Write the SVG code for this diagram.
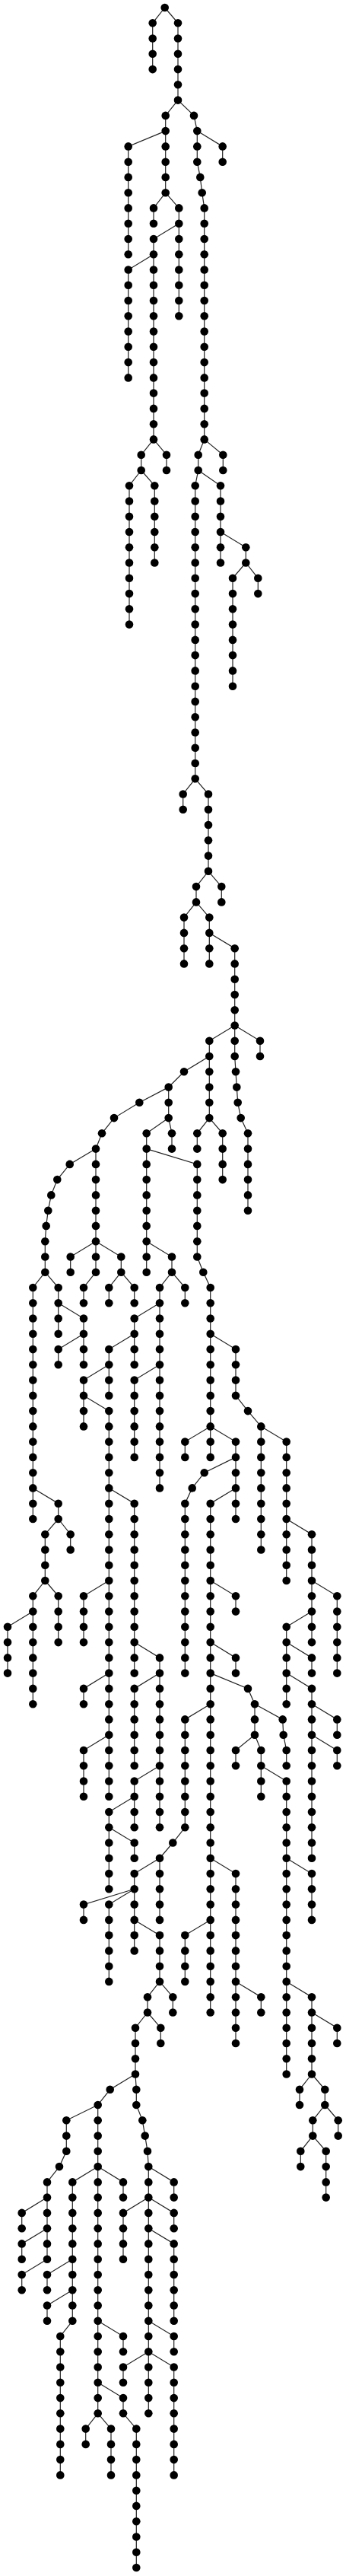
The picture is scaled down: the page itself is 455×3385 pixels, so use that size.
<svg xmlns="http://www.w3.org/2000/svg" width="455" height="3385" viewBox="0 0 455 3385">
<style>
circle{r:5.3px;fill:#000}
#edges path{fill:none;stroke:#222;stroke-width:1.2}
</style>
<rect width="455" height="3385" fill="#fff"/>
<g id="edges">
<path d="M216.7,10L200.7,30.3V91.1"/>
<path d="M216.7,10L234,30.3V131.6"/>
<path d="M234,131.6L217.7,151.9V253.2"/>
<path d="M217.7,172.1L168.7,192.4V334.2"/>
<path d="M217.7,253.2L202,273.4V293.7"/>
<path d="M217.7,253.2L235.3,273.4V415.3"/>
<path d="M235.3,293.7L202,314V577.4"/>
<path d="M202,334.2L168.7,354.5V496.4"/>
<path d="M202,577.4L219,597.7V618"/>
<path d="M202,577.4L185.7,597.7V618"/>
<path d="M185.7,618L170,638.2V820.6"/>
<path d="M185.7,618L203.3,638.2V739.5"/>
<path d="M234,131.6L255,151.9L259.3,172.1V212.7L263.3,232.9L265.7,253.2L268.7,273.4V577.4"/>
<path d="M259.3,172.1L292.7,192.4V212.7"/>
<path d="M268.7,577.4L293.3,597.7V618"/>
<path d="M268.7,577.4L260.7,597.7V618L256.7,638.2V1023.3"/>
<path d="M260.7,618L290,638.2V739.5"/>
<path d="M290,699L323.3,719.3V739.5"/>
<path d="M323.3,739.5L339.3,759.8V780.1"/>
<path d="M323.3,739.5L306,759.8V901.7"/>
<path d="M256.7,1023.3L240.7,1043.5V1063.8"/>
<path d="M256.7,1023.3L274,1043.5V1144.8"/>
<path d="M274,1144.8L291.3,1165.1V1185.4"/>
<path d="M274,1144.8L258,1165.1V1185.4"/>
<path d="M258,1185.4L242,1205.6V1266.4"/>
<path d="M258,1185.4L275.3,1205.6V1266.4"/>
<path d="M275.3,1225.9L308.7,1246.2V1347.5"/>
<path d="M308.7,1347.5L342,1367.8V1388"/>
<path d="M308.7,1347.5L275.3,1367.8V1469.1"/>
<path d="M308.7,1347.5V1388L310,1408.3L311.3,1428.6L312.7,1448.8L316.7,1469.1L326,1489.3V1590.7"/>
<path d="M275.3,1469.1L259.3,1489.3V1509.6"/>
<path d="M275.3,1469.1L292.7,1489.3V1550.1"/>
<path d="M275.3,1388L242,1408.3L221.7,1428.6V1469.1"/>
<path d="M221.7,1469.1L226,1489.3V1509.6"/>
<path d="M221.7,1469.1L192.7,1489.3V1671.7"/>
<path d="M192.7,1509.6L259.3,1529.9V1651.5L267.3,1671.7L276.7,1692V1914.9"/>
<path d="M192.7,1631.2L226,1651.5V1671.7"/>
<path d="M226,1671.7L210,1692V1955.4"/>
<path d="M226,1671.7L243.3,1692V1712.3"/>
<path d="M221.7,1428.6L183.3,1448.8L150,1469.1L134,1489.3L126,1509.6V1671.7"/>
<path d="M126,1509.6L91.7,1529.9L75.3,1550.1L67.3,1570.4L63.3,1590.7L60.7,1610.9L59.3,1631.2V1671.7"/>
<path d="M59.3,1671.7L43.3,1692V1996"/>
<path d="M59.3,1671.7L76.7,1692V1752.8"/>
<path d="M76.7,1712.3L110,1732.5V1752.8"/>
<path d="M110,1752.8L76.7,1773.1V1793.3"/>
<path d="M110,1752.8V1793.3"/>
<path d="M126,1631.2L92.7,1651.5V1671.7"/>
<path d="M126,1631.2L159.3,1651.5V1671.7"/>
<path d="M126,1671.7L110,1692V1712.3"/>
<path d="M159.3,1671.7L143.3,1692V1712.3"/>
<path d="M159.3,1671.7L176.7,1692V1712.3"/>
<path d="M210,1712.3L176.7,1732.5V1793.3"/>
<path d="M176.7,1752.8L143.3,1773.1V1833.9"/>
<path d="M143.3,1793.3L110,1813.6V1874.4"/>
<path d="M110,1833.9L143.3,1854.1V2360.7"/>
<path d="M143.3,1955.4L176.7,1975.7V2198.6"/>
<path d="M176.7,2158.1L210,2178.4V2401.3"/>
<path d="M210,2198.6L176.7,2218.9V2320.2"/>
<path d="M210,2320.2L176.7,2340.5V2401.3"/>
<path d="M176.7,2360.7L143.3,2381V2482.3"/>
<path d="M143.3,2401.3L176.7,2421.5V2441.8"/>
<path d="M143.3,2077L110,2097.3V2158.1"/>
<path d="M143.3,2198.6L110,2218.9V2239.2"/>
<path d="M143.3,2279.7L110,2300V2360.7"/>
<path d="M210,1793.3L176.7,1813.6V1914.9"/>
<path d="M276.7,1752.8L310,1773.1V1833.9L326,1854.1L343.3,1874.4V2036.5"/>
<path d="M343.3,1874.4L376.7,1894.6V2077"/>
<path d="M376.7,1996L410,2016.2V2158.1"/>
<path d="M410,2077L443.3,2097.3V2198.6"/>
<path d="M410,2117.6L376.7,2137.8V2239.2"/>
<path d="M376.7,2158.1L410,2178.4V2198.6"/>
<path d="M376.7,2198.6L410,2218.9V2441.8"/>
<path d="M410,2239.2L443.3,2259.4V2279.7"/>
<path d="M410,2279.7L443.3,2300V2320.2"/>
<path d="M276.7,1874.4L243.3,1894.6V1914.9"/>
<path d="M276.7,1874.4L310,1894.6V1996"/>
<path d="M310,1914.9L268.7,1935.2L252.7,1955.4L243.3,1975.7V2198.6"/>
<path d="M310,1955.4L276.7,1975.7V2644.5"/>
<path d="M276.7,2077L310,2097.3V2117.6"/>
<path d="M276.7,2158.1L310,2178.4V2198.6"/>
<path d="M276.7,2198.6L326,2218.9L335,2239.2V2279.7"/>
<path d="M335,2239.2L371.7,2259.4L372.7,2279.7L376.7,2300V2320.2"/>
<path d="M335,2279.7L310,2300V2320.2"/>
<path d="M335,2279.7L343.3,2300V2360.7"/>
<path d="M343.3,2320.2L376.7,2340.5V2725.5"/>
<path d="M376.7,2441.8L410,2462.1V2522.9"/>
<path d="M276.7,2239.2L243.3,2259.4V2401.3L227.3,2421.5L210,2441.8V2522.9"/>
<path d="M210,2441.8L176.7,2462.1V2563.4"/>
<path d="M176.7,2482.3L110,2502.6V2522.9"/>
<path d="M176.7,2482.3L143.3,2502.6V2603.9"/>
<path d="M176.7,2522.9L210,2543.1V2603.9"/>
<path d="M210,2603.9L227.3,2624.2V2644.5"/>
<path d="M210,2603.9L194,2624.2V2644.5"/>
<path d="M194,2644.5L211.3,2664.7V2685"/>
<path d="M194,2644.5L178,2664.7V2725.5"/>
<path d="M178,2725.5L179.3,2745.8V2766L187.3,2786.3L190.7,2806.6L194,2826.8L195.3,2847.1V3171.3"/>
<path d="M178,2725.5L144.7,2745.8L128.7,2766V3171.3"/>
<path d="M128.7,2766L87.3,2786.3V2826.8L78,2847.1L62,2867.4V2968.7"/>
<path d="M62,2887.6L28.7,2907.9V2928.2"/>
<path d="M62,2928.2L28.7,2948.4V2968.7"/>
<path d="M62,2968.7L28.7,2989V3009.2"/>
<path d="M128.7,2847.1L95.3,2867.4V3049.8"/>
<path d="M128.7,2847.1L162,2867.4V2887.6"/>
<path d="M95.3,2968.7L62,2989V3009.2"/>
<path d="M95.3,3009.2L62,3029.5V3049.8"/>
<path d="M95.3,3049.8L79.3,3070V3252.4"/>
<path d="M128.7,3049.8L162,3070V3090.3"/>
<path d="M128.7,3130.8L162,3151.1V3171.3L179.3,3191.6V3374"/>
<path d="M128.7,3171.3L112.7,3191.6V3211.9"/>
<path d="M128.7,3171.3L146,3191.6V3252.4"/>
<path d="M195.3,2847.1L228.7,2867.4V2887.6"/>
<path d="M195.3,2887.6L162,2907.9V2968.7"/>
<path d="M195.3,2887.6L228.7,2907.9V2928.2"/>
<path d="M195.3,2928.2L228.7,2948.4V3049.8"/>
<path d="M195.3,3049.8L228.7,3070V3090.3"/>
<path d="M195.3,3090.3L162,3110.5V3130.8"/>
<path d="M195.3,3090.3L228.7,3110.5V3252.4"/>
<path d="M276.7,2441.8L310,2462.1V2685"/>
<path d="M310,2603.9L343.3,2624.2V2644.5"/>
<path d="M276.7,2522.9L243.3,2543.1V2603.9"/>
<path d="M376.7,2603.9L410,2624.2V2725.5"/>
<path d="M410,2644.5L443.3,2664.7V2685"/>
<path d="M410,2725.5L394,2745.8V2766"/>
<path d="M410,2725.5L427.3,2745.8V2766"/>
<path d="M427.3,2766L411.3,2786.3V2806.6"/>
<path d="M427.3,2766L444.7,2786.3V2806.6"/>
<path d="M411.3,2806.6L395.3,2826.8V2847.1"/>
<path d="M411.3,2806.6L428.7,2826.8V2887.6"/>
<path d="M43.3,1955.4L76.7,1975.7V1996"/>
<path d="M76.7,1996L59.3,2016.2V2077"/>
<path d="M76.7,1996L92.7,2016.2V2036.5"/>
<path d="M59.3,2077L43.3,2097.3V2239.2"/>
<path d="M59.3,2077L76.7,2097.3V2158.1"/>
<path d="M43.3,2117.6L10,2137.8V2198.6"/>
</g>
<g id="nodes">
<g id="n0"><circle cx="216.7" cy="10"/></g>
<g id="n1"><circle cx="200.7" cy="30.3"/></g>
<g id="n2"><circle cx="200.7" cy="50.5"/></g>
<g id="n3"><circle cx="200.7" cy="70.8"/></g>
<g id="n4"><circle cx="200.7" cy="91.1"/></g>
<g id="n5"><circle cx="234" cy="30.3"/></g>
<g id="n6"><circle cx="234" cy="50.5"/></g>
<g id="n7"><circle cx="234" cy="70.8"/></g>
<g id="n8"><circle cx="234" cy="91.1"/></g>
<g id="n9"><circle cx="234" cy="111.3"/></g>
<g id="n10"><circle cx="234" cy="131.6"/></g>
<g id="n11"><circle cx="217.7" cy="151.9"/></g>
<g id="n12"><circle cx="217.7" cy="172.1"/></g>
<g id="n13"><circle cx="217.7" cy="192.4"/></g>
<g id="n14"><circle cx="217.7" cy="212.7"/></g>
<g id="n15"><circle cx="217.7" cy="232.9"/></g>
<g id="n16"><circle cx="217.7" cy="253.2"/></g>
<g id="n17"><circle cx="168.7" cy="192.4"/></g>
<g id="n18"><circle cx="168.7" cy="212.7"/></g>
<g id="n19"><circle cx="168.7" cy="232.9"/></g>
<g id="n20"><circle cx="168.7" cy="253.2"/></g>
<g id="n21"><circle cx="168.7" cy="273.4"/></g>
<g id="n22"><circle cx="168.7" cy="293.7"/></g>
<g id="n23"><circle cx="168.7" cy="314"/></g>
<g id="n24"><circle cx="168.7" cy="334.2"/></g>
<g id="n25"><circle cx="202" cy="273.4"/></g>
<g id="n26"><circle cx="202" cy="293.7"/></g>
<g id="n27"><circle cx="235.3" cy="273.4"/></g>
<g id="n28"><circle cx="235.3" cy="293.7"/></g>
<g id="n29"><circle cx="235.3" cy="314"/></g>
<g id="n30"><circle cx="235.3" cy="334.2"/></g>
<g id="n31"><circle cx="235.3" cy="354.5"/></g>
<g id="n32"><circle cx="235.3" cy="374.8"/></g>
<g id="n33"><circle cx="235.3" cy="395"/></g>
<g id="n34"><circle cx="235.3" cy="415.3"/></g>
<g id="n35"><circle cx="202" cy="314"/></g>
<g id="n36"><circle cx="202" cy="334.2"/></g>
<g id="n37"><circle cx="202" cy="354.5"/></g>
<g id="n38"><circle cx="202" cy="374.8"/></g>
<g id="n39"><circle cx="202" cy="395"/></g>
<g id="n40"><circle cx="202" cy="415.3"/></g>
<g id="n41"><circle cx="202" cy="435.6"/></g>
<g id="n42"><circle cx="202" cy="455.8"/></g>
<g id="n43"><circle cx="202" cy="476.1"/></g>
<g id="n44"><circle cx="202" cy="496.4"/></g>
<g id="n45"><circle cx="202" cy="516.6"/></g>
<g id="n46"><circle cx="202" cy="536.9"/></g>
<g id="n47"><circle cx="202" cy="557.2"/></g>
<g id="n48"><circle cx="202" cy="577.4"/></g>
<g id="n49"><circle cx="168.7" cy="354.5"/></g>
<g id="n50"><circle cx="168.7" cy="374.8"/></g>
<g id="n51"><circle cx="168.7" cy="395"/></g>
<g id="n52"><circle cx="168.7" cy="415.3"/></g>
<g id="n53"><circle cx="168.7" cy="435.6"/></g>
<g id="n54"><circle cx="168.7" cy="455.8"/></g>
<g id="n55"><circle cx="168.7" cy="476.1"/></g>
<g id="n56"><circle cx="168.7" cy="496.4"/></g>
<g id="n57"><circle cx="219" cy="597.7"/></g>
<g id="n58"><circle cx="219" cy="618"/></g>
<g id="n59"><circle cx="185.7" cy="597.7"/></g>
<g id="n60"><circle cx="185.7" cy="618"/></g>
<g id="n61"><circle cx="170" cy="638.2"/></g>
<g id="n62"><circle cx="170" cy="658.5"/></g>
<g id="n63"><circle cx="170" cy="678.7"/></g>
<g id="n64"><circle cx="170" cy="699"/></g>
<g id="n65"><circle cx="170" cy="719.3"/></g>
<g id="n66"><circle cx="170" cy="739.5"/></g>
<g id="n67"><circle cx="170" cy="759.8"/></g>
<g id="n68"><circle cx="170" cy="780.1"/></g>
<g id="n69"><circle cx="170" cy="800.3"/></g>
<g id="n70"><circle cx="170" cy="820.6"/></g>
<g id="n71"><circle cx="203.3" cy="638.2"/></g>
<g id="n72"><circle cx="203.3" cy="658.5"/></g>
<g id="n73"><circle cx="203.3" cy="678.7"/></g>
<g id="n74"><circle cx="203.3" cy="699"/></g>
<g id="n75"><circle cx="203.3" cy="719.3"/></g>
<g id="n76"><circle cx="203.3" cy="739.5"/></g>
<g id="n77"><circle cx="255" cy="151.9"/></g>
<g id="n78"><circle cx="259.3" cy="172.1"/></g>
<g id="n79"><circle cx="259.3" cy="192.4"/></g>
<g id="n80"><circle cx="259.3" cy="212.7"/></g>
<g id="n81"><circle cx="263.3" cy="232.9"/></g>
<g id="n82"><circle cx="265.7" cy="253.2"/></g>
<g id="n83"><circle cx="268.7" cy="273.4"/></g>
<g id="n84"><circle cx="268.7" cy="293.7"/></g>
<g id="n85"><circle cx="268.7" cy="314"/></g>
<g id="n86"><circle cx="268.7" cy="334.2"/></g>
<g id="n87"><circle cx="268.7" cy="354.5"/></g>
<g id="n88"><circle cx="268.7" cy="374.8"/></g>
<g id="n89"><circle cx="268.7" cy="395"/></g>
<g id="n90"><circle cx="268.7" cy="415.3"/></g>
<g id="n91"><circle cx="268.7" cy="435.6"/></g>
<g id="n92"><circle cx="268.7" cy="455.8"/></g>
<g id="n93"><circle cx="268.7" cy="476.1"/></g>
<g id="n94"><circle cx="268.7" cy="496.4"/></g>
<g id="n95"><circle cx="268.7" cy="516.6"/></g>
<g id="n96"><circle cx="268.7" cy="536.9"/></g>
<g id="n97"><circle cx="268.7" cy="557.2"/></g>
<g id="n98"><circle cx="268.7" cy="577.4"/></g>
<g id="n99"><circle cx="292.7" cy="192.4"/></g>
<g id="n100"><circle cx="292.7" cy="212.7"/></g>
<g id="n101"><circle cx="293.3" cy="597.7"/></g>
<g id="n102"><circle cx="293.3" cy="618"/></g>
<g id="n103"><circle cx="260.7" cy="597.7"/></g>
<g id="n104"><circle cx="260.7" cy="618"/></g>
<g id="n105"><circle cx="256.7" cy="638.2"/></g>
<g id="n106"><circle cx="256.7" cy="658.5"/></g>
<g id="n107"><circle cx="256.7" cy="678.7"/></g>
<g id="n108"><circle cx="256.7" cy="699"/></g>
<g id="n109"><circle cx="256.7" cy="719.3"/></g>
<g id="n110"><circle cx="256.7" cy="739.5"/></g>
<g id="n111"><circle cx="256.7" cy="759.8"/></g>
<g id="n112"><circle cx="256.7" cy="780.1"/></g>
<g id="n113"><circle cx="256.7" cy="800.3"/></g>
<g id="n114"><circle cx="256.7" cy="820.6"/></g>
<g id="n115"><circle cx="256.7" cy="840.9"/></g>
<g id="n116"><circle cx="256.7" cy="861.1"/></g>
<g id="n117"><circle cx="256.7" cy="881.4"/></g>
<g id="n118"><circle cx="256.7" cy="901.7"/></g>
<g id="n119"><circle cx="256.7" cy="921.9"/></g>
<g id="n120"><circle cx="256.7" cy="942.2"/></g>
<g id="n121"><circle cx="256.7" cy="962.5"/></g>
<g id="n122"><circle cx="256.7" cy="982.7"/></g>
<g id="n123"><circle cx="256.7" cy="1003"/></g>
<g id="n124"><circle cx="256.7" cy="1023.3"/></g>
<g id="n125"><circle cx="290" cy="638.2"/></g>
<g id="n126"><circle cx="290" cy="658.5"/></g>
<g id="n127"><circle cx="290" cy="678.7"/></g>
<g id="n128"><circle cx="290" cy="699"/></g>
<g id="n129"><circle cx="290" cy="719.3"/></g>
<g id="n130"><circle cx="290" cy="739.5"/></g>
<g id="n131"><circle cx="323.3" cy="719.3"/></g>
<g id="n132"><circle cx="323.3" cy="739.5"/></g>
<g id="n133"><circle cx="339.3" cy="759.8"/></g>
<g id="n134"><circle cx="339.3" cy="780.1"/></g>
<g id="n135"><circle cx="306" cy="759.8"/></g>
<g id="n136"><circle cx="306" cy="780.1"/></g>
<g id="n137"><circle cx="306" cy="800.3"/></g>
<g id="n138"><circle cx="306" cy="820.6"/></g>
<g id="n139"><circle cx="306" cy="840.9"/></g>
<g id="n140"><circle cx="306" cy="861.1"/></g>
<g id="n141"><circle cx="306" cy="881.4"/></g>
<g id="n142"><circle cx="306" cy="901.7"/></g>
<g id="n143"><circle cx="240.7" cy="1043.5"/></g>
<g id="n144"><circle cx="240.7" cy="1063.8"/></g>
<g id="n145"><circle cx="274" cy="1043.5"/></g>
<g id="n146"><circle cx="274" cy="1063.8"/></g>
<g id="n147"><circle cx="274" cy="1084"/></g>
<g id="n148"><circle cx="274" cy="1104.3"/></g>
<g id="n149"><circle cx="274" cy="1124.6"/></g>
<g id="n150"><circle cx="274" cy="1144.8"/></g>
<g id="n151"><circle cx="291.3" cy="1165.1"/></g>
<g id="n152"><circle cx="291.3" cy="1185.4"/></g>
<g id="n153"><circle cx="258" cy="1165.1"/></g>
<g id="n154"><circle cx="258" cy="1185.4"/></g>
<g id="n155"><circle cx="242" cy="1205.6"/></g>
<g id="n156"><circle cx="242" cy="1225.9"/></g>
<g id="n157"><circle cx="242" cy="1246.2"/></g>
<g id="n158"><circle cx="242" cy="1266.4"/></g>
<g id="n159"><circle cx="275.3" cy="1205.6"/></g>
<g id="n160"><circle cx="275.3" cy="1225.9"/></g>
<g id="n161"><circle cx="275.3" cy="1246.2"/></g>
<g id="n162"><circle cx="275.3" cy="1266.4"/></g>
<g id="n163"><circle cx="308.7" cy="1246.2"/></g>
<g id="n164"><circle cx="308.7" cy="1266.4"/></g>
<g id="n165"><circle cx="308.7" cy="1286.7"/></g>
<g id="n166"><circle cx="308.7" cy="1307"/></g>
<g id="n167"><circle cx="308.7" cy="1327.2"/></g>
<g id="n168"><circle cx="308.7" cy="1347.5"/></g>
<g id="n169"><circle cx="342" cy="1367.8"/></g>
<g id="n170"><circle cx="342" cy="1388"/></g>
<g id="n171"><circle cx="275.3" cy="1367.8"/></g>
<g id="n172"><circle cx="275.3" cy="1388"/></g>
<g id="n173"><circle cx="275.3" cy="1408.3"/></g>
<g id="n174"><circle cx="275.3" cy="1428.6"/></g>
<g id="n175"><circle cx="275.3" cy="1448.8"/></g>
<g id="n176"><circle cx="275.3" cy="1469.1"/></g>
<g id="n177"><circle cx="308.7" cy="1367.8"/></g>
<g id="n178"><circle cx="308.7" cy="1388"/></g>
<g id="n179"><circle cx="310" cy="1408.3"/></g>
<g id="n180"><circle cx="311.3" cy="1428.6"/></g>
<g id="n181"><circle cx="312.7" cy="1448.8"/></g>
<g id="n182"><circle cx="316.7" cy="1469.1"/></g>
<g id="n183"><circle cx="326" cy="1489.3"/></g>
<g id="n184"><circle cx="326" cy="1509.6"/></g>
<g id="n185"><circle cx="326" cy="1529.9"/></g>
<g id="n186"><circle cx="326" cy="1550.1"/></g>
<g id="n187"><circle cx="326" cy="1570.4"/></g>
<g id="n188"><circle cx="326" cy="1590.7"/></g>
<g id="n189"><circle cx="259.3" cy="1489.3"/></g>
<g id="n190"><circle cx="259.3" cy="1509.6"/></g>
<g id="n191"><circle cx="292.7" cy="1489.3"/></g>
<g id="n192"><circle cx="292.7" cy="1509.6"/></g>
<g id="n193"><circle cx="292.7" cy="1529.9"/></g>
<g id="n194"><circle cx="292.7" cy="1550.1"/></g>
<g id="n195"><circle cx="242" cy="1408.3"/></g>
<g id="n196"><circle cx="221.7" cy="1428.6"/></g>
<g id="n197"><circle cx="221.7" cy="1448.8"/></g>
<g id="n198"><circle cx="221.7" cy="1469.1"/></g>
<g id="n199"><circle cx="226" cy="1489.3"/></g>
<g id="n200"><circle cx="226" cy="1509.6"/></g>
<g id="n201"><circle cx="192.7" cy="1489.3"/></g>
<g id="n202"><circle cx="192.7" cy="1509.6"/></g>
<g id="n203"><circle cx="192.7" cy="1529.9"/></g>
<g id="n204"><circle cx="192.7" cy="1550.1"/></g>
<g id="n205"><circle cx="192.7" cy="1570.4"/></g>
<g id="n206"><circle cx="192.7" cy="1590.7"/></g>
<g id="n207"><circle cx="192.7" cy="1610.9"/></g>
<g id="n208"><circle cx="192.7" cy="1631.2"/></g>
<g id="n209"><circle cx="192.7" cy="1651.5"/></g>
<g id="n210"><circle cx="192.7" cy="1671.7"/></g>
<g id="n211"><circle cx="259.3" cy="1529.9"/></g>
<g id="n212"><circle cx="259.3" cy="1550.1"/></g>
<g id="n213"><circle cx="259.3" cy="1570.4"/></g>
<g id="n214"><circle cx="259.3" cy="1590.7"/></g>
<g id="n215"><circle cx="259.3" cy="1610.9"/></g>
<g id="n216"><circle cx="259.3" cy="1631.2"/></g>
<g id="n217"><circle cx="259.3" cy="1651.5"/></g>
<g id="n218"><circle cx="267.3" cy="1671.7"/></g>
<g id="n219"><circle cx="276.7" cy="1692"/></g>
<g id="n220"><circle cx="276.7" cy="1712.3"/></g>
<g id="n221"><circle cx="276.7" cy="1732.5"/></g>
<g id="n222"><circle cx="276.7" cy="1752.8"/></g>
<g id="n223"><circle cx="276.7" cy="1773.1"/></g>
<g id="n224"><circle cx="276.7" cy="1793.3"/></g>
<g id="n225"><circle cx="276.7" cy="1813.6"/></g>
<g id="n226"><circle cx="276.7" cy="1833.9"/></g>
<g id="n227"><circle cx="276.7" cy="1854.1"/></g>
<g id="n228"><circle cx="276.7" cy="1874.4"/></g>
<g id="n229"><circle cx="276.7" cy="1894.6"/></g>
<g id="n230"><circle cx="276.7" cy="1914.9"/></g>
<g id="n231"><circle cx="226" cy="1651.5"/></g>
<g id="n232"><circle cx="226" cy="1671.7"/></g>
<g id="n233"><circle cx="210" cy="1692"/></g>
<g id="n234"><circle cx="210" cy="1712.3"/></g>
<g id="n235"><circle cx="210" cy="1732.5"/></g>
<g id="n236"><circle cx="210" cy="1752.8"/></g>
<g id="n237"><circle cx="210" cy="1773.1"/></g>
<g id="n238"><circle cx="210" cy="1793.3"/></g>
<g id="n239"><circle cx="210" cy="1813.6"/></g>
<g id="n240"><circle cx="210" cy="1833.9"/></g>
<g id="n241"><circle cx="210" cy="1854.1"/></g>
<g id="n242"><circle cx="210" cy="1874.4"/></g>
<g id="n243"><circle cx="210" cy="1894.6"/></g>
<g id="n244"><circle cx="210" cy="1914.9"/></g>
<g id="n245"><circle cx="210" cy="1935.2"/></g>
<g id="n246"><circle cx="210" cy="1955.4"/></g>
<g id="n247"><circle cx="243.3" cy="1692"/></g>
<g id="n248"><circle cx="243.3" cy="1712.3"/></g>
<g id="n249"><circle cx="183.3" cy="1448.8"/></g>
<g id="n250"><circle cx="150" cy="1469.1"/></g>
<g id="n251"><circle cx="134" cy="1489.3"/></g>
<g id="n252"><circle cx="126" cy="1509.6"/></g>
<g id="n253"><circle cx="126" cy="1529.9"/></g>
<g id="n254"><circle cx="126" cy="1550.1"/></g>
<g id="n255"><circle cx="126" cy="1570.4"/></g>
<g id="n256"><circle cx="126" cy="1590.7"/></g>
<g id="n257"><circle cx="126" cy="1610.9"/></g>
<g id="n258"><circle cx="126" cy="1631.2"/></g>
<g id="n259"><circle cx="126" cy="1651.5"/></g>
<g id="n260"><circle cx="126" cy="1671.7"/></g>
<g id="n261"><circle cx="91.7" cy="1529.9"/></g>
<g id="n262"><circle cx="75.3" cy="1550.1"/></g>
<g id="n263"><circle cx="67.3" cy="1570.4"/></g>
<g id="n264"><circle cx="63.3" cy="1590.7"/></g>
<g id="n265"><circle cx="60.7" cy="1610.9"/></g>
<g id="n266"><circle cx="59.3" cy="1631.2"/></g>
<g id="n267"><circle cx="59.3" cy="1651.5"/></g>
<g id="n268"><circle cx="59.3" cy="1671.7"/></g>
<g id="n269"><circle cx="43.3" cy="1692"/></g>
<g id="n270"><circle cx="43.3" cy="1712.3"/></g>
<g id="n271"><circle cx="43.3" cy="1732.5"/></g>
<g id="n272"><circle cx="43.3" cy="1752.8"/></g>
<g id="n273"><circle cx="43.3" cy="1773.1"/></g>
<g id="n274"><circle cx="43.3" cy="1793.3"/></g>
<g id="n275"><circle cx="43.3" cy="1813.6"/></g>
<g id="n276"><circle cx="43.3" cy="1833.9"/></g>
<g id="n277"><circle cx="43.3" cy="1854.1"/></g>
<g id="n278"><circle cx="43.3" cy="1874.4"/></g>
<g id="n279"><circle cx="43.3" cy="1894.6"/></g>
<g id="n280"><circle cx="43.3" cy="1914.9"/></g>
<g id="n281"><circle cx="43.3" cy="1935.2"/></g>
<g id="n282"><circle cx="43.3" cy="1955.4"/></g>
<g id="n283"><circle cx="43.3" cy="1975.7"/></g>
<g id="n284"><circle cx="43.3" cy="1996"/></g>
<g id="n285"><circle cx="76.7" cy="1692"/></g>
<g id="n286"><circle cx="76.7" cy="1712.3"/></g>
<g id="n287"><circle cx="76.7" cy="1732.5"/></g>
<g id="n288"><circle cx="76.7" cy="1752.8"/></g>
<g id="n289"><circle cx="110" cy="1732.5"/></g>
<g id="n290"><circle cx="110" cy="1752.8"/></g>
<g id="n291"><circle cx="76.7" cy="1773.1"/></g>
<g id="n292"><circle cx="76.7" cy="1793.3"/></g>
<g id="n293"><circle cx="110" cy="1773.1"/></g>
<g id="n294"><circle cx="110" cy="1793.3"/></g>
<g id="n295"><circle cx="92.7" cy="1651.5"/></g>
<g id="n296"><circle cx="92.7" cy="1671.7"/></g>
<g id="n297"><circle cx="159.3" cy="1651.5"/></g>
<g id="n298"><circle cx="159.3" cy="1671.7"/></g>
<g id="n299"><circle cx="110" cy="1692"/></g>
<g id="n300"><circle cx="110" cy="1712.3"/></g>
<g id="n301"><circle cx="143.3" cy="1692"/></g>
<g id="n302"><circle cx="143.3" cy="1712.3"/></g>
<g id="n303"><circle cx="176.7" cy="1692"/></g>
<g id="n304"><circle cx="176.7" cy="1712.3"/></g>
<g id="n305"><circle cx="176.7" cy="1732.5"/></g>
<g id="n306"><circle cx="176.7" cy="1752.8"/></g>
<g id="n307"><circle cx="176.7" cy="1773.1"/></g>
<g id="n308"><circle cx="176.7" cy="1793.3"/></g>
<g id="n309"><circle cx="143.3" cy="1773.1"/></g>
<g id="n310"><circle cx="143.3" cy="1793.3"/></g>
<g id="n311"><circle cx="143.3" cy="1813.6"/></g>
<g id="n312"><circle cx="143.3" cy="1833.9"/></g>
<g id="n313"><circle cx="110" cy="1813.6"/></g>
<g id="n314"><circle cx="110" cy="1833.9"/></g>
<g id="n315"><circle cx="110" cy="1854.1"/></g>
<g id="n316"><circle cx="110" cy="1874.4"/></g>
<g id="n317"><circle cx="143.3" cy="1854.1"/></g>
<g id="n318"><circle cx="143.3" cy="1874.4"/></g>
<g id="n319"><circle cx="143.3" cy="1894.6"/></g>
<g id="n320"><circle cx="143.3" cy="1914.9"/></g>
<g id="n321"><circle cx="143.3" cy="1935.2"/></g>
<g id="n322"><circle cx="143.3" cy="1955.4"/></g>
<g id="n323"><circle cx="143.3" cy="1975.7"/></g>
<g id="n324"><circle cx="143.3" cy="1996"/></g>
<g id="n325"><circle cx="143.3" cy="2016.2"/></g>
<g id="n326"><circle cx="143.3" cy="2036.5"/></g>
<g id="n327"><circle cx="143.3" cy="2056.8"/></g>
<g id="n328"><circle cx="143.3" cy="2077"/></g>
<g id="n329"><circle cx="143.3" cy="2097.3"/></g>
<g id="n330"><circle cx="143.3" cy="2117.6"/></g>
<g id="n331"><circle cx="143.3" cy="2137.8"/></g>
<g id="n332"><circle cx="143.3" cy="2158.1"/></g>
<g id="n333"><circle cx="143.3" cy="2178.4"/></g>
<g id="n334"><circle cx="143.3" cy="2198.6"/></g>
<g id="n335"><circle cx="143.3" cy="2218.9"/></g>
<g id="n336"><circle cx="143.3" cy="2239.2"/></g>
<g id="n337"><circle cx="143.3" cy="2259.4"/></g>
<g id="n338"><circle cx="143.3" cy="2279.7"/></g>
<g id="n339"><circle cx="143.3" cy="2300"/></g>
<g id="n340"><circle cx="143.3" cy="2320.2"/></g>
<g id="n341"><circle cx="143.3" cy="2340.5"/></g>
<g id="n342"><circle cx="143.3" cy="2360.7"/></g>
<g id="n343"><circle cx="176.7" cy="1975.7"/></g>
<g id="n344"><circle cx="176.7" cy="1996"/></g>
<g id="n345"><circle cx="176.7" cy="2016.2"/></g>
<g id="n346"><circle cx="176.7" cy="2036.5"/></g>
<g id="n347"><circle cx="176.7" cy="2056.8"/></g>
<g id="n348"><circle cx="176.7" cy="2077"/></g>
<g id="n349"><circle cx="176.7" cy="2097.3"/></g>
<g id="n350"><circle cx="176.7" cy="2117.6"/></g>
<g id="n351"><circle cx="176.7" cy="2137.8"/></g>
<g id="n352"><circle cx="176.7" cy="2158.1"/></g>
<g id="n353"><circle cx="176.7" cy="2178.4"/></g>
<g id="n354"><circle cx="176.7" cy="2198.6"/></g>
<g id="n355"><circle cx="210" cy="2178.4"/></g>
<g id="n356"><circle cx="210" cy="2198.6"/></g>
<g id="n357"><circle cx="210" cy="2218.9"/></g>
<g id="n358"><circle cx="210" cy="2239.2"/></g>
<g id="n359"><circle cx="210" cy="2259.4"/></g>
<g id="n360"><circle cx="210" cy="2279.7"/></g>
<g id="n361"><circle cx="210" cy="2300"/></g>
<g id="n362"><circle cx="210" cy="2320.2"/></g>
<g id="n363"><circle cx="210" cy="2340.5"/></g>
<g id="n364"><circle cx="210" cy="2360.7"/></g>
<g id="n365"><circle cx="210" cy="2381"/></g>
<g id="n366"><circle cx="210" cy="2401.3"/></g>
<g id="n367"><circle cx="176.7" cy="2218.9"/></g>
<g id="n368"><circle cx="176.7" cy="2239.2"/></g>
<g id="n369"><circle cx="176.7" cy="2259.4"/></g>
<g id="n370"><circle cx="176.7" cy="2279.7"/></g>
<g id="n371"><circle cx="176.7" cy="2300"/></g>
<g id="n372"><circle cx="176.7" cy="2320.2"/></g>
<g id="n373"><circle cx="176.7" cy="2340.5"/></g>
<g id="n374"><circle cx="176.7" cy="2360.7"/></g>
<g id="n375"><circle cx="176.7" cy="2381"/></g>
<g id="n376"><circle cx="176.7" cy="2401.3"/></g>
<g id="n377"><circle cx="143.3" cy="2381"/></g>
<g id="n378"><circle cx="143.3" cy="2401.3"/></g>
<g id="n379"><circle cx="143.3" cy="2421.5"/></g>
<g id="n380"><circle cx="143.3" cy="2441.8"/></g>
<g id="n381"><circle cx="143.3" cy="2462.1"/></g>
<g id="n382"><circle cx="143.3" cy="2482.3"/></g>
<g id="n383"><circle cx="176.7" cy="2421.5"/></g>
<g id="n384"><circle cx="176.7" cy="2441.8"/></g>
<g id="n385"><circle cx="110" cy="2097.3"/></g>
<g id="n386"><circle cx="110" cy="2117.6"/></g>
<g id="n387"><circle cx="110" cy="2137.8"/></g>
<g id="n388"><circle cx="110" cy="2158.1"/></g>
<g id="n389"><circle cx="110" cy="2218.9"/></g>
<g id="n390"><circle cx="110" cy="2239.2"/></g>
<g id="n391"><circle cx="110" cy="2300"/></g>
<g id="n392"><circle cx="110" cy="2320.2"/></g>
<g id="n393"><circle cx="110" cy="2340.5"/></g>
<g id="n394"><circle cx="110" cy="2360.7"/></g>
<g id="n395"><circle cx="176.7" cy="1813.6"/></g>
<g id="n396"><circle cx="176.7" cy="1833.9"/></g>
<g id="n397"><circle cx="176.7" cy="1854.1"/></g>
<g id="n398"><circle cx="176.7" cy="1874.4"/></g>
<g id="n399"><circle cx="176.7" cy="1894.6"/></g>
<g id="n400"><circle cx="176.7" cy="1914.9"/></g>
<g id="n401"><circle cx="310" cy="1773.1"/></g>
<g id="n402"><circle cx="310" cy="1793.3"/></g>
<g id="n403"><circle cx="310" cy="1813.6"/></g>
<g id="n404"><circle cx="310" cy="1833.9"/></g>
<g id="n405"><circle cx="326" cy="1854.1"/></g>
<g id="n406"><circle cx="343.3" cy="1874.4"/></g>
<g id="n407"><circle cx="343.3" cy="1894.6"/></g>
<g id="n408"><circle cx="343.3" cy="1914.9"/></g>
<g id="n409"><circle cx="343.3" cy="1935.2"/></g>
<g id="n410"><circle cx="343.3" cy="1955.4"/></g>
<g id="n411"><circle cx="343.3" cy="1975.7"/></g>
<g id="n412"><circle cx="343.3" cy="1996"/></g>
<g id="n413"><circle cx="343.3" cy="2016.2"/></g>
<g id="n414"><circle cx="343.3" cy="2036.5"/></g>
<g id="n415"><circle cx="376.7" cy="1894.6"/></g>
<g id="n416"><circle cx="376.7" cy="1914.9"/></g>
<g id="n417"><circle cx="376.7" cy="1935.2"/></g>
<g id="n418"><circle cx="376.7" cy="1955.4"/></g>
<g id="n419"><circle cx="376.7" cy="1975.7"/></g>
<g id="n420"><circle cx="376.7" cy="1996"/></g>
<g id="n421"><circle cx="376.7" cy="2016.2"/></g>
<g id="n422"><circle cx="376.7" cy="2036.5"/></g>
<g id="n423"><circle cx="376.7" cy="2056.8"/></g>
<g id="n424"><circle cx="376.7" cy="2077"/></g>
<g id="n425"><circle cx="410" cy="2016.2"/></g>
<g id="n426"><circle cx="410" cy="2036.5"/></g>
<g id="n427"><circle cx="410" cy="2056.8"/></g>
<g id="n428"><circle cx="410" cy="2077"/></g>
<g id="n429"><circle cx="410" cy="2097.3"/></g>
<g id="n430"><circle cx="410" cy="2117.6"/></g>
<g id="n431"><circle cx="410" cy="2137.8"/></g>
<g id="n432"><circle cx="410" cy="2158.1"/></g>
<g id="n433"><circle cx="443.3" cy="2097.3"/></g>
<g id="n434"><circle cx="443.3" cy="2117.6"/></g>
<g id="n435"><circle cx="443.3" cy="2137.8"/></g>
<g id="n436"><circle cx="443.3" cy="2158.1"/></g>
<g id="n437"><circle cx="443.3" cy="2178.4"/></g>
<g id="n438"><circle cx="443.3" cy="2198.6"/></g>
<g id="n439"><circle cx="376.7" cy="2137.8"/></g>
<g id="n440"><circle cx="376.7" cy="2158.1"/></g>
<g id="n441"><circle cx="376.7" cy="2178.4"/></g>
<g id="n442"><circle cx="376.7" cy="2198.6"/></g>
<g id="n443"><circle cx="376.7" cy="2218.9"/></g>
<g id="n444"><circle cx="376.7" cy="2239.2"/></g>
<g id="n445"><circle cx="410" cy="2178.4"/></g>
<g id="n446"><circle cx="410" cy="2198.6"/></g>
<g id="n447"><circle cx="410" cy="2218.9"/></g>
<g id="n448"><circle cx="410" cy="2239.2"/></g>
<g id="n449"><circle cx="410" cy="2259.4"/></g>
<g id="n450"><circle cx="410" cy="2279.7"/></g>
<g id="n451"><circle cx="410" cy="2300"/></g>
<g id="n452"><circle cx="410" cy="2320.2"/></g>
<g id="n453"><circle cx="410" cy="2340.5"/></g>
<g id="n454"><circle cx="410" cy="2360.7"/></g>
<g id="n455"><circle cx="410" cy="2381"/></g>
<g id="n456"><circle cx="410" cy="2401.3"/></g>
<g id="n457"><circle cx="410" cy="2421.5"/></g>
<g id="n458"><circle cx="410" cy="2441.8"/></g>
<g id="n459"><circle cx="443.3" cy="2259.4"/></g>
<g id="n460"><circle cx="443.3" cy="2279.7"/></g>
<g id="n461"><circle cx="443.3" cy="2300"/></g>
<g id="n462"><circle cx="443.3" cy="2320.2"/></g>
<g id="n463"><circle cx="243.3" cy="1894.6"/></g>
<g id="n464"><circle cx="243.3" cy="1914.9"/></g>
<g id="n465"><circle cx="310" cy="1894.6"/></g>
<g id="n466"><circle cx="310" cy="1914.9"/></g>
<g id="n467"><circle cx="310" cy="1935.2"/></g>
<g id="n468"><circle cx="310" cy="1955.4"/></g>
<g id="n469"><circle cx="310" cy="1975.7"/></g>
<g id="n470"><circle cx="310" cy="1996"/></g>
<g id="n471"><circle cx="268.7" cy="1935.2"/></g>
<g id="n472"><circle cx="252.7" cy="1955.4"/></g>
<g id="n473"><circle cx="243.3" cy="1975.7"/></g>
<g id="n474"><circle cx="243.3" cy="1996"/></g>
<g id="n475"><circle cx="243.3" cy="2016.2"/></g>
<g id="n476"><circle cx="243.3" cy="2036.5"/></g>
<g id="n477"><circle cx="243.3" cy="2056.8"/></g>
<g id="n478"><circle cx="243.3" cy="2077"/></g>
<g id="n479"><circle cx="243.3" cy="2097.3"/></g>
<g id="n480"><circle cx="243.3" cy="2117.6"/></g>
<g id="n481"><circle cx="243.3" cy="2137.8"/></g>
<g id="n482"><circle cx="243.3" cy="2158.1"/></g>
<g id="n483"><circle cx="243.3" cy="2178.4"/></g>
<g id="n484"><circle cx="243.3" cy="2198.6"/></g>
<g id="n485"><circle cx="276.7" cy="1975.7"/></g>
<g id="n486"><circle cx="276.7" cy="1996"/></g>
<g id="n487"><circle cx="276.7" cy="2016.2"/></g>
<g id="n488"><circle cx="276.7" cy="2036.5"/></g>
<g id="n489"><circle cx="276.7" cy="2056.8"/></g>
<g id="n490"><circle cx="276.7" cy="2077"/></g>
<g id="n491"><circle cx="276.7" cy="2097.3"/></g>
<g id="n492"><circle cx="276.7" cy="2117.6"/></g>
<g id="n493"><circle cx="276.7" cy="2137.8"/></g>
<g id="n494"><circle cx="276.7" cy="2158.1"/></g>
<g id="n495"><circle cx="276.7" cy="2178.4"/></g>
<g id="n496"><circle cx="276.7" cy="2198.6"/></g>
<g id="n497"><circle cx="276.7" cy="2218.9"/></g>
<g id="n498"><circle cx="276.7" cy="2239.2"/></g>
<g id="n499"><circle cx="276.7" cy="2259.4"/></g>
<g id="n500"><circle cx="276.7" cy="2279.7"/></g>
<g id="n501"><circle cx="276.7" cy="2300"/></g>
<g id="n502"><circle cx="276.7" cy="2320.2"/></g>
<g id="n503"><circle cx="276.7" cy="2340.5"/></g>
<g id="n504"><circle cx="276.7" cy="2360.7"/></g>
<g id="n505"><circle cx="276.7" cy="2381"/></g>
<g id="n506"><circle cx="276.7" cy="2401.3"/></g>
<g id="n507"><circle cx="276.7" cy="2421.5"/></g>
<g id="n508"><circle cx="276.7" cy="2441.8"/></g>
<g id="n509"><circle cx="276.7" cy="2462.1"/></g>
<g id="n510"><circle cx="276.7" cy="2482.3"/></g>
<g id="n511"><circle cx="276.7" cy="2502.6"/></g>
<g id="n512"><circle cx="276.7" cy="2522.9"/></g>
<g id="n513"><circle cx="276.7" cy="2543.1"/></g>
<g id="n514"><circle cx="276.7" cy="2563.4"/></g>
<g id="n515"><circle cx="276.7" cy="2583.7"/></g>
<g id="n516"><circle cx="276.7" cy="2603.9"/></g>
<g id="n517"><circle cx="276.7" cy="2624.2"/></g>
<g id="n518"><circle cx="276.7" cy="2644.5"/></g>
<g id="n519"><circle cx="310" cy="2097.3"/></g>
<g id="n520"><circle cx="310" cy="2117.6"/></g>
<g id="n521"><circle cx="310" cy="2178.4"/></g>
<g id="n522"><circle cx="310" cy="2198.6"/></g>
<g id="n523"><circle cx="326" cy="2218.9"/></g>
<g id="n524"><circle cx="335" cy="2239.2"/></g>
<g id="n525"><circle cx="335" cy="2259.4"/></g>
<g id="n526"><circle cx="335" cy="2279.7"/></g>
<g id="n527"><circle cx="371.7" cy="2259.4"/></g>
<g id="n528"><circle cx="372.7" cy="2279.7"/></g>
<g id="n529"><circle cx="376.7" cy="2300"/></g>
<g id="n530"><circle cx="376.7" cy="2320.2"/></g>
<g id="n531"><circle cx="310" cy="2300"/></g>
<g id="n532"><circle cx="310" cy="2320.2"/></g>
<g id="n533"><circle cx="343.3" cy="2300"/></g>
<g id="n534"><circle cx="343.3" cy="2320.2"/></g>
<g id="n535"><circle cx="343.3" cy="2340.5"/></g>
<g id="n536"><circle cx="343.3" cy="2360.7"/></g>
<g id="n537"><circle cx="376.7" cy="2340.5"/></g>
<g id="n538"><circle cx="376.7" cy="2360.7"/></g>
<g id="n539"><circle cx="376.7" cy="2381"/></g>
<g id="n540"><circle cx="376.7" cy="2401.3"/></g>
<g id="n541"><circle cx="376.7" cy="2421.5"/></g>
<g id="n542"><circle cx="376.7" cy="2441.8"/></g>
<g id="n543"><circle cx="376.7" cy="2462.1"/></g>
<g id="n544"><circle cx="376.7" cy="2482.3"/></g>
<g id="n545"><circle cx="376.7" cy="2502.6"/></g>
<g id="n546"><circle cx="376.7" cy="2522.9"/></g>
<g id="n547"><circle cx="376.7" cy="2543.1"/></g>
<g id="n548"><circle cx="376.7" cy="2563.4"/></g>
<g id="n549"><circle cx="376.7" cy="2583.7"/></g>
<g id="n550"><circle cx="376.7" cy="2603.9"/></g>
<g id="n551"><circle cx="376.7" cy="2624.2"/></g>
<g id="n552"><circle cx="376.7" cy="2644.5"/></g>
<g id="n553"><circle cx="376.7" cy="2664.7"/></g>
<g id="n554"><circle cx="376.7" cy="2685"/></g>
<g id="n555"><circle cx="376.7" cy="2705.2"/></g>
<g id="n556"><circle cx="376.7" cy="2725.5"/></g>
<g id="n557"><circle cx="410" cy="2462.1"/></g>
<g id="n558"><circle cx="410" cy="2482.3"/></g>
<g id="n559"><circle cx="410" cy="2502.6"/></g>
<g id="n560"><circle cx="410" cy="2522.9"/></g>
<g id="n561"><circle cx="243.3" cy="2259.4"/></g>
<g id="n562"><circle cx="243.3" cy="2279.7"/></g>
<g id="n563"><circle cx="243.3" cy="2300"/></g>
<g id="n564"><circle cx="243.3" cy="2320.2"/></g>
<g id="n565"><circle cx="243.3" cy="2340.5"/></g>
<g id="n566"><circle cx="243.3" cy="2360.7"/></g>
<g id="n567"><circle cx="243.3" cy="2381"/></g>
<g id="n568"><circle cx="243.3" cy="2401.3"/></g>
<g id="n569"><circle cx="227.3" cy="2421.5"/></g>
<g id="n570"><circle cx="210" cy="2441.8"/></g>
<g id="n571"><circle cx="210" cy="2462.1"/></g>
<g id="n572"><circle cx="210" cy="2482.3"/></g>
<g id="n573"><circle cx="210" cy="2502.6"/></g>
<g id="n574"><circle cx="210" cy="2522.9"/></g>
<g id="n575"><circle cx="176.7" cy="2462.1"/></g>
<g id="n576"><circle cx="176.7" cy="2482.3"/></g>
<g id="n577"><circle cx="176.7" cy="2502.6"/></g>
<g id="n578"><circle cx="176.7" cy="2522.9"/></g>
<g id="n579"><circle cx="176.7" cy="2543.1"/></g>
<g id="n580"><circle cx="176.7" cy="2563.4"/></g>
<g id="n581"><circle cx="110" cy="2502.6"/></g>
<g id="n582"><circle cx="110" cy="2522.9"/></g>
<g id="n583"><circle cx="143.3" cy="2502.6"/></g>
<g id="n584"><circle cx="143.3" cy="2522.9"/></g>
<g id="n585"><circle cx="143.3" cy="2543.1"/></g>
<g id="n586"><circle cx="143.3" cy="2563.4"/></g>
<g id="n587"><circle cx="143.3" cy="2583.7"/></g>
<g id="n588"><circle cx="143.3" cy="2603.9"/></g>
<g id="n589"><circle cx="210" cy="2543.1"/></g>
<g id="n590"><circle cx="210" cy="2563.4"/></g>
<g id="n591"><circle cx="210" cy="2583.7"/></g>
<g id="n592"><circle cx="210" cy="2603.9"/></g>
<g id="n593"><circle cx="227.3" cy="2624.2"/></g>
<g id="n594"><circle cx="227.3" cy="2644.5"/></g>
<g id="n595"><circle cx="194" cy="2624.2"/></g>
<g id="n596"><circle cx="194" cy="2644.5"/></g>
<g id="n597"><circle cx="211.3" cy="2664.7"/></g>
<g id="n598"><circle cx="211.3" cy="2685"/></g>
<g id="n599"><circle cx="178" cy="2664.7"/></g>
<g id="n600"><circle cx="178" cy="2685"/></g>
<g id="n601"><circle cx="178" cy="2705.2"/></g>
<g id="n602"><circle cx="178" cy="2725.5"/></g>
<g id="n603"><circle cx="179.3" cy="2745.8"/></g>
<g id="n604"><circle cx="179.3" cy="2766"/></g>
<g id="n605"><circle cx="187.3" cy="2786.3"/></g>
<g id="n606"><circle cx="190.7" cy="2806.6"/></g>
<g id="n607"><circle cx="194" cy="2826.8"/></g>
<g id="n608"><circle cx="195.3" cy="2847.1"/></g>
<g id="n609"><circle cx="195.3" cy="2867.4"/></g>
<g id="n610"><circle cx="195.3" cy="2887.6"/></g>
<g id="n611"><circle cx="195.3" cy="2907.9"/></g>
<g id="n612"><circle cx="195.3" cy="2928.2"/></g>
<g id="n613"><circle cx="195.3" cy="2948.4"/></g>
<g id="n614"><circle cx="195.3" cy="2968.7"/></g>
<g id="n615"><circle cx="195.3" cy="2989"/></g>
<g id="n616"><circle cx="195.3" cy="3009.2"/></g>
<g id="n617"><circle cx="195.3" cy="3029.5"/></g>
<g id="n618"><circle cx="195.3" cy="3049.8"/></g>
<g id="n619"><circle cx="195.3" cy="3070"/></g>
<g id="n620"><circle cx="195.3" cy="3090.3"/></g>
<g id="n621"><circle cx="195.3" cy="3110.5"/></g>
<g id="n622"><circle cx="195.3" cy="3130.8"/></g>
<g id="n623"><circle cx="195.3" cy="3151.1"/></g>
<g id="n624"><circle cx="195.3" cy="3171.3"/></g>
<g id="n625"><circle cx="144.7" cy="2745.8"/></g>
<g id="n626"><circle cx="128.7" cy="2766"/></g>
<g id="n627"><circle cx="128.7" cy="2786.3"/></g>
<g id="n628"><circle cx="128.7" cy="2806.6"/></g>
<g id="n629"><circle cx="128.7" cy="2826.8"/></g>
<g id="n630"><circle cx="128.7" cy="2847.1"/></g>
<g id="n631"><circle cx="128.7" cy="2867.4"/></g>
<g id="n632"><circle cx="128.7" cy="2887.6"/></g>
<g id="n633"><circle cx="128.7" cy="2907.9"/></g>
<g id="n634"><circle cx="128.7" cy="2928.2"/></g>
<g id="n635"><circle cx="128.7" cy="2948.4"/></g>
<g id="n636"><circle cx="128.7" cy="2968.7"/></g>
<g id="n637"><circle cx="128.7" cy="2989"/></g>
<g id="n638"><circle cx="128.7" cy="3009.2"/></g>
<g id="n639"><circle cx="128.7" cy="3029.5"/></g>
<g id="n640"><circle cx="128.7" cy="3049.8"/></g>
<g id="n641"><circle cx="128.7" cy="3070"/></g>
<g id="n642"><circle cx="128.7" cy="3090.3"/></g>
<g id="n643"><circle cx="128.7" cy="3110.5"/></g>
<g id="n644"><circle cx="128.7" cy="3130.8"/></g>
<g id="n645"><circle cx="128.7" cy="3151.1"/></g>
<g id="n646"><circle cx="128.7" cy="3171.3"/></g>
<g id="n647"><circle cx="87.3" cy="2786.3"/></g>
<g id="n648"><circle cx="87.3" cy="2806.6"/></g>
<g id="n649"><circle cx="87.3" cy="2826.8"/></g>
<g id="n650"><circle cx="78" cy="2847.1"/></g>
<g id="n651"><circle cx="62" cy="2867.4"/></g>
<g id="n652"><circle cx="62" cy="2887.6"/></g>
<g id="n653"><circle cx="62" cy="2907.9"/></g>
<g id="n654"><circle cx="62" cy="2928.2"/></g>
<g id="n655"><circle cx="62" cy="2948.4"/></g>
<g id="n656"><circle cx="62" cy="2968.7"/></g>
<g id="n657"><circle cx="28.7" cy="2907.9"/></g>
<g id="n658"><circle cx="28.7" cy="2928.2"/></g>
<g id="n659"><circle cx="28.7" cy="2948.4"/></g>
<g id="n660"><circle cx="28.7" cy="2968.7"/></g>
<g id="n661"><circle cx="28.7" cy="2989"/></g>
<g id="n662"><circle cx="28.7" cy="3009.2"/></g>
<g id="n663"><circle cx="95.3" cy="2867.4"/></g>
<g id="n664"><circle cx="95.3" cy="2887.6"/></g>
<g id="n665"><circle cx="95.3" cy="2907.9"/></g>
<g id="n666"><circle cx="95.3" cy="2928.2"/></g>
<g id="n667"><circle cx="95.3" cy="2948.4"/></g>
<g id="n668"><circle cx="95.3" cy="2968.7"/></g>
<g id="n669"><circle cx="95.3" cy="2989"/></g>
<g id="n670"><circle cx="95.3" cy="3009.2"/></g>
<g id="n671"><circle cx="95.3" cy="3029.5"/></g>
<g id="n672"><circle cx="95.3" cy="3049.8"/></g>
<g id="n673"><circle cx="162" cy="2867.4"/></g>
<g id="n674"><circle cx="162" cy="2887.6"/></g>
<g id="n675"><circle cx="62" cy="2989"/></g>
<g id="n676"><circle cx="62" cy="3009.2"/></g>
<g id="n677"><circle cx="62" cy="3029.5"/></g>
<g id="n678"><circle cx="62" cy="3049.8"/></g>
<g id="n679"><circle cx="79.3" cy="3070"/></g>
<g id="n680"><circle cx="79.3" cy="3090.3"/></g>
<g id="n681"><circle cx="79.3" cy="3110.5"/></g>
<g id="n682"><circle cx="79.3" cy="3130.8"/></g>
<g id="n683"><circle cx="79.3" cy="3151.1"/></g>
<g id="n684"><circle cx="79.3" cy="3171.3"/></g>
<g id="n685"><circle cx="79.3" cy="3191.6"/></g>
<g id="n686"><circle cx="79.3" cy="3211.9"/></g>
<g id="n687"><circle cx="79.3" cy="3232.1"/></g>
<g id="n688"><circle cx="79.3" cy="3252.4"/></g>
<g id="n689"><circle cx="162" cy="3070"/></g>
<g id="n690"><circle cx="162" cy="3090.3"/></g>
<g id="n691"><circle cx="162" cy="3151.1"/></g>
<g id="n692"><circle cx="162" cy="3171.3"/></g>
<g id="n693"><circle cx="179.3" cy="3191.6"/></g>
<g id="n694"><circle cx="179.3" cy="3211.9"/></g>
<g id="n695"><circle cx="179.3" cy="3232.1"/></g>
<g id="n696"><circle cx="179.3" cy="3252.4"/></g>
<g id="n697"><circle cx="179.3" cy="3272.7"/></g>
<g id="n698"><circle cx="179.3" cy="3292.9"/></g>
<g id="n699"><circle cx="179.3" cy="3313.2"/></g>
<g id="n700"><circle cx="179.3" cy="3333.5"/></g>
<g id="n701"><circle cx="179.3" cy="3353.7"/></g>
<g id="n702"><circle cx="179.3" cy="3374"/></g>
<g id="n703"><circle cx="112.7" cy="3191.6"/></g>
<g id="n704"><circle cx="112.7" cy="3211.9"/></g>
<g id="n705"><circle cx="146" cy="3191.6"/></g>
<g id="n706"><circle cx="146" cy="3211.9"/></g>
<g id="n707"><circle cx="146" cy="3232.1"/></g>
<g id="n708"><circle cx="146" cy="3252.4"/></g>
<g id="n709"><circle cx="228.7" cy="2867.4"/></g>
<g id="n710"><circle cx="228.7" cy="2887.6"/></g>
<g id="n711"><circle cx="162" cy="2907.9"/></g>
<g id="n712"><circle cx="162" cy="2928.2"/></g>
<g id="n713"><circle cx="162" cy="2948.4"/></g>
<g id="n714"><circle cx="162" cy="2968.7"/></g>
<g id="n715"><circle cx="228.7" cy="2907.9"/></g>
<g id="n716"><circle cx="228.7" cy="2928.2"/></g>
<g id="n717"><circle cx="228.7" cy="2948.4"/></g>
<g id="n718"><circle cx="228.7" cy="2968.7"/></g>
<g id="n719"><circle cx="228.7" cy="2989"/></g>
<g id="n720"><circle cx="228.7" cy="3009.2"/></g>
<g id="n721"><circle cx="228.7" cy="3029.5"/></g>
<g id="n722"><circle cx="228.7" cy="3049.8"/></g>
<g id="n723"><circle cx="228.7" cy="3070"/></g>
<g id="n724"><circle cx="228.7" cy="3090.3"/></g>
<g id="n725"><circle cx="162" cy="3110.5"/></g>
<g id="n726"><circle cx="162" cy="3130.8"/></g>
<g id="n727"><circle cx="228.7" cy="3110.5"/></g>
<g id="n728"><circle cx="228.7" cy="3130.8"/></g>
<g id="n729"><circle cx="228.7" cy="3151.1"/></g>
<g id="n730"><circle cx="228.7" cy="3171.3"/></g>
<g id="n731"><circle cx="228.7" cy="3191.6"/></g>
<g id="n732"><circle cx="228.7" cy="3211.9"/></g>
<g id="n733"><circle cx="228.7" cy="3232.1"/></g>
<g id="n734"><circle cx="228.7" cy="3252.4"/></g>
<g id="n735"><circle cx="310" cy="2462.1"/></g>
<g id="n736"><circle cx="310" cy="2482.3"/></g>
<g id="n737"><circle cx="310" cy="2502.6"/></g>
<g id="n738"><circle cx="310" cy="2522.9"/></g>
<g id="n739"><circle cx="310" cy="2543.1"/></g>
<g id="n740"><circle cx="310" cy="2563.4"/></g>
<g id="n741"><circle cx="310" cy="2583.7"/></g>
<g id="n742"><circle cx="310" cy="2603.9"/></g>
<g id="n743"><circle cx="310" cy="2624.2"/></g>
<g id="n744"><circle cx="310" cy="2644.5"/></g>
<g id="n745"><circle cx="310" cy="2664.7"/></g>
<g id="n746"><circle cx="310" cy="2685"/></g>
<g id="n747"><circle cx="343.3" cy="2624.2"/></g>
<g id="n748"><circle cx="343.3" cy="2644.5"/></g>
<g id="n749"><circle cx="243.3" cy="2543.1"/></g>
<g id="n750"><circle cx="243.3" cy="2563.4"/></g>
<g id="n751"><circle cx="243.3" cy="2583.7"/></g>
<g id="n752"><circle cx="243.3" cy="2603.9"/></g>
<g id="n753"><circle cx="410" cy="2624.2"/></g>
<g id="n754"><circle cx="410" cy="2644.5"/></g>
<g id="n755"><circle cx="410" cy="2664.7"/></g>
<g id="n756"><circle cx="410" cy="2685"/></g>
<g id="n757"><circle cx="410" cy="2705.2"/></g>
<g id="n758"><circle cx="410" cy="2725.5"/></g>
<g id="n759"><circle cx="443.3" cy="2664.7"/></g>
<g id="n760"><circle cx="443.3" cy="2685"/></g>
<g id="n761"><circle cx="394" cy="2745.8"/></g>
<g id="n762"><circle cx="394" cy="2766"/></g>
<g id="n763"><circle cx="427.3" cy="2745.8"/></g>
<g id="n764"><circle cx="427.3" cy="2766"/></g>
<g id="n765"><circle cx="411.3" cy="2786.3"/></g>
<g id="n766"><circle cx="411.3" cy="2806.6"/></g>
<g id="n767"><circle cx="444.7" cy="2786.3"/></g>
<g id="n768"><circle cx="444.7" cy="2806.6"/></g>
<g id="n769"><circle cx="395.3" cy="2826.8"/></g>
<g id="n770"><circle cx="395.3" cy="2847.1"/></g>
<g id="n771"><circle cx="428.7" cy="2826.8"/></g>
<g id="n772"><circle cx="428.7" cy="2847.1"/></g>
<g id="n773"><circle cx="428.7" cy="2867.4"/></g>
<g id="n774"><circle cx="428.7" cy="2887.6"/></g>
<g id="n775"><circle cx="76.7" cy="1975.7"/></g>
<g id="n776"><circle cx="76.7" cy="1996"/></g>
<g id="n777"><circle cx="59.3" cy="2016.2"/></g>
<g id="n778"><circle cx="59.3" cy="2036.5"/></g>
<g id="n779"><circle cx="59.3" cy="2056.8"/></g>
<g id="n780"><circle cx="59.3" cy="2077"/></g>
<g id="n781"><circle cx="92.7" cy="2016.2"/></g>
<g id="n782"><circle cx="92.7" cy="2036.5"/></g>
<g id="n783"><circle cx="43.3" cy="2097.3"/></g>
<g id="n784"><circle cx="43.3" cy="2117.6"/></g>
<g id="n785"><circle cx="43.3" cy="2137.8"/></g>
<g id="n786"><circle cx="43.3" cy="2158.1"/></g>
<g id="n787"><circle cx="43.3" cy="2178.4"/></g>
<g id="n788"><circle cx="43.3" cy="2198.6"/></g>
<g id="n789"><circle cx="43.3" cy="2218.9"/></g>
<g id="n790"><circle cx="43.3" cy="2239.2"/></g>
<g id="n791"><circle cx="76.7" cy="2097.3"/></g>
<g id="n792"><circle cx="76.7" cy="2117.6"/></g>
<g id="n793"><circle cx="76.7" cy="2137.8"/></g>
<g id="n794"><circle cx="76.7" cy="2158.1"/></g>
<g id="n795"><circle cx="10" cy="2137.8"/></g>
<g id="n796"><circle cx="10" cy="2158.1"/></g>
<g id="n797"><circle cx="10" cy="2178.4"/></g>
<g id="n798"><circle cx="10" cy="2198.6"/></g>
</g>
</svg>
